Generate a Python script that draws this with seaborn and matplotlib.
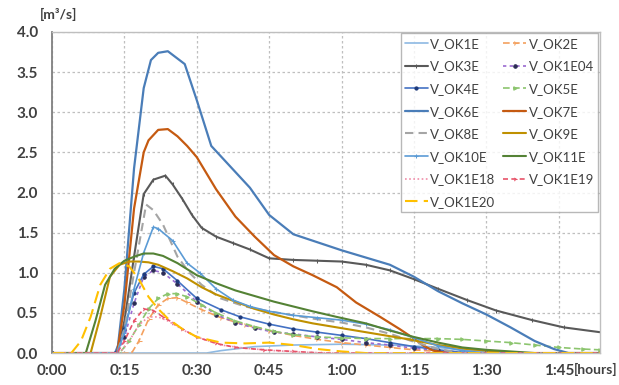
import matplotlib
matplotlib.use("Agg")
import matplotlib.pyplot as plt
import seaborn as sns
import pandas as pd

# time in minutes, discharge in m3/s
t_ok1e = [0, 32, 35, 42, 50, 60, 70, 78, 85, 90, 95, 113.5]
v_ok1e = [0, 0, 0.03, 0.08, 0.10, 0.11, 0.10, 0.08, 0.04, 0.02, 0, 0]

t_ok2e = [0, 16.5, 18, 20, 22, 24, 26, 28, 31, 35, 40, 45, 50, 55, 60, 65, 70, 75, 80, 85, 113.5]
v_ok2e = [0, 0, 0.15, 0.42, 0.60, 0.68, 0.69, 0.63, 0.54, 0.44, 0.35, 0.28, 0.22, 0.17, 0.13, 0.10, 0.07, 0.04, 0.02, 0, 0]

t_ok3e = [0, 13.5, 15, 17, 19, 21, 23.5, 25, 27, 29, 31, 34, 37.5, 41, 45, 50, 55, 60, 65, 70, 75, 80, 86, 92, 99.5, 106, 113.5]
v_ok3e = [0, 0, 0.4, 1.2, 1.98, 2.16, 2.21, 2.1, 1.92, 1.72, 1.56, 1.45, 1.37, 1.29, 1.18, 1.16, 1.15, 1.14, 1.10, 1.03, 0.92, 0.80, 0.66, 0.53, 0.41, 0.32, 0.26]

t_ok1e04 = [0, 13.5, 15, 17, 19, 21, 23, 26, 30, 34, 38, 42, 46, 50, 55, 60, 65, 70, 75, 80, 85, 90, 113.5]
v_ok1e04 = [0, 0, 0.2, 0.62, 0.95, 1.03, 1.0, 0.86, 0.64, 0.48, 0.38, 0.31, 0.26, 0.24, 0.20, 0.17, 0.13, 0.10, 0.06, 0.03, 0.01, 0, 0]

t_ok4e = [0, 13, 15, 17, 19, 21, 23, 26, 30, 35, 39, 45, 50, 55, 60, 65, 70, 75, 80, 85, 90, 113.5]
v_ok4e = [0, 0, 0.3, 0.75, 0.98, 1.08, 1.05, 0.9, 0.68, 0.54, 0.45, 0.36, 0.30, 0.26, 0.22, 0.18, 0.13, 0.08, 0.04, 0.01, 0, 0]

t_ok5e = [0, 14, 16, 18, 20, 22, 24, 26, 28, 31, 34, 38, 42, 46, 50, 55, 60, 65, 70, 75, 80, 85, 90, 95, 100, 105, 110, 113.5]
v_ok5e = [0, 0, 0.15, 0.35, 0.55, 0.68, 0.74, 0.74, 0.70, 0.60, 0.50, 0.40, 0.33, 0.27, 0.23, 0.20, 0.19, 0.18, 0.18, 0.18, 0.18, 0.17, 0.15, 0.13, 0.10, 0.07, 0.05, 0.04]

t_ok6e = [0, 13.5, 15, 17, 19, 20.5, 22, 24, 27.5, 30, 33, 37, 41, 45, 50, 55, 60, 65, 70, 75, 80, 85, 90, 95, 100, 104, 107, 113.5]
v_ok6e = [0, 0, 0.8, 2.3, 3.3, 3.65, 3.74, 3.76, 3.6, 3.15, 2.58, 2.32, 2.06, 1.72, 1.48, 1.38, 1.28, 1.19, 1.10, 0.95, 0.77, 0.62, 0.48, 0.32, 0.15, 0.05, 0, 0]

t_ok7e = [0, 13.5, 15, 17, 19, 20, 22, 24, 26, 28, 30, 34, 38, 42, 46, 50, 54, 59, 63, 68, 72, 75, 77, 79, 82, 113.5]
v_ok7e = [0, 0, 0.6, 1.8, 2.5, 2.65, 2.78, 2.79, 2.7, 2.58, 2.44, 2.04, 1.70, 1.45, 1.22, 1.08, 0.97, 0.82, 0.63, 0.45, 0.30, 0.18, 0.09, 0.03, 0, 0]

t_ok8e = [0, 13.5, 15, 17, 19.5, 21, 23, 26, 28.5, 31, 35, 40, 45, 50, 55, 60, 65, 70, 75, 80, 85, 113.5]
v_ok8e = [0, 0, 0.3, 1.0, 1.85, 1.78, 1.6, 1.2, 1.0, 0.85, 0.68, 0.58, 0.52, 0.47, 0.42, 0.38, 0.32, 0.24, 0.14, 0.05, 0, 0]

t_ok9e = [0, 8, 10, 12, 14, 16, 18, 20, 22, 25, 28, 31, 34, 38, 42, 46, 50, 54, 59, 64, 69, 74, 80, 86, 92, 98, 113.5]
v_ok9e = [0, 0, 0.45, 0.95, 1.10, 1.14, 1.14, 1.13, 1.10, 1.02, 0.93, 0.82, 0.73, 0.64, 0.55, 0.48, 0.42, 0.37, 0.32, 0.27, 0.22, 0.17, 0.10, 0.05, 0.02, 0, 0]

t_ok10e = [0, 13.5, 15, 17, 19, 21, 22, 25, 28, 30.6, 34, 37.5, 41, 45, 50, 55, 60, 65, 70, 75, 80, 85, 90, 113.5]
v_ok10e = [0, 0, 0.25, 0.8, 1.25, 1.57, 1.55, 1.4, 1.12, 1.0, 0.8, 0.66, 0.58, 0.52, 0.47, 0.44, 0.41, 0.36, 0.29, 0.19, 0.09, 0.03, 0, 0]

t_ok11e = [0, 7, 9, 11, 13, 15, 17, 19, 21, 23, 26, 30, 34, 38, 42, 46, 50, 54, 59, 65, 70, 75, 80, 85, 90, 95, 100, 113.5]
v_ok11e = [0, 0, 0.4, 0.85, 1.05, 1.15, 1.2, 1.24, 1.24, 1.21, 1.12, 0.97, 0.87, 0.78, 0.71, 0.64, 0.58, 0.52, 0.45, 0.37, 0.28, 0.20, 0.13, 0.07, 0.04, 0.02, 0, 0]

t_ok1e18 = [0, 14, 16, 18, 20, 22, 24, 26, 28, 31, 35, 40, 46, 52, 58, 113.5]
v_ok1e18 = [0, 0, 0.15, 0.35, 0.45, 0.45, 0.40, 0.33, 0.26, 0.18, 0.10, 0.06, 0.03, 0.01, 0, 0]

t_ok1e19 = [0, 13.5, 15, 17, 19, 21, 23, 25, 27, 30, 34, 38, 44, 50, 56, 113.5]
v_ok1e19 = [0, 0, 0.15, 0.40, 0.55, 0.53, 0.45, 0.38, 0.30, 0.20, 0.12, 0.07, 0.04, 0.02, 0, 0]

t_ok1e20 = [0, 4, 6, 8, 10, 12, 14, 16, 18, 20, 22, 24, 27, 30, 35, 40, 45, 50, 55, 60, 65, 113.5]
v_ok1e20 = [0, 0, 0.15, 0.45, 0.85, 1.05, 1.12, 1.08, 0.92, 0.70, 0.55, 0.43, 0.30, 0.20, 0.13, 0.12, 0.13, 0.10, 0.05, 0.02, 0, 0]

x_ticks = [0, 15, 30, 45, 60, 75, 90, 105]
x_labels = ["0:00", "0:15", "0:30", "0:45", "1:00", "1:15", "1:30", "1:45"]
y_ticks = [0, 0.5, 1.0, 1.5, 2.0, 2.5, 3.0, 3.5, 4.0]

series = [
    ("V_OK1E", t_ok1e, v_ok1e, dict(color="#8DB9E3", linestyle="-", lw=1.2)),
    ("V_OK2E", t_ok2e, v_ok2e, dict(color="#F4A15F", linestyle=(0, (4, 2)), lw=1.2, marker="4", ms=4, mec="#F4A15F")),
    ("V_OK3E", t_ok3e, v_ok3e, dict(color="#595959", linestyle="-", lw=1.5, marker="|", ms=3, mec="#595959")),
    ("V_OK1E04", t_ok1e04, v_ok1e04, dict(color="#9B6BD1", linestyle=(0, (2, 2)), lw=1.2, marker="o", ms=2.5, mfc="#2B2B55", mec="#2B2B55")),
    ("V_OK4E", t_ok4e, v_ok4e, dict(color="#4472C4", linestyle="-", lw=1.2, marker="o", ms=2.3, mfc="#1F3A7A", mec="#1F3A7A")),
    ("V_OK5E", t_ok5e, v_ok5e, dict(color="#8CC56E", linestyle=(0, (4, 2)), lw=1.2, marker=">", ms=2.5, mec="#8CC56E")),
    ("V_OK6E", t_ok6e, v_ok6e, dict(color="#4A7DB8", linestyle="-", lw=1.6)),
    ("V_OK7E", t_ok7e, v_ok7e, dict(color="#C55A11", linestyle="-", lw=1.6)),
    ("V_OK8E", t_ok8e, v_ok8e, dict(color="#A5A5A5", linestyle=(0, (4, 2.5)), lw=1.5)),
    ("V_OK9E", t_ok9e, v_ok9e, dict(color="#BF9000", linestyle="-", lw=1.5)),
    ("V_OK10E", t_ok10e, v_ok10e, dict(color="#5B9BD5", linestyle="-", lw=1.2, marker="+", ms=3, mec="#5B9BD5")),
    ("V_OK11E", t_ok11e, v_ok11e, dict(color="#548235", linestyle="-", lw=1.5)),
    ("V_OK1E18", t_ok1e18, v_ok1e18, dict(color="#F08CA8", linestyle=(0, (1, 1.5)), lw=1.2)),
    ("V_OK1E19", t_ok1e19, v_ok1e19, dict(color="#E8546A", linestyle=(0, (3, 2)), lw=1.2, marker="4", ms=3, mec="#E8546A")),
    ("V_OK1E20", t_ok1e20, v_ok1e20, dict(color="#FFC000", linestyle=(0, (6, 3)), lw=1.5)),
]

sns.set_style("white")
plt.rcParams["font.family"] = ["Lato", "DejaVu Sans"]
text_col = "#404040"

fig, ax = plt.subplots(figsize=(6.19, 3.85), dpi=100)
fig.subplots_adjust(left=0.084, right=0.969, top=0.917, bottom=0.083)

for name, t, v, style in series:
    df = pd.DataFrame({"t": t, "v": v})
    sns.lineplot(data=df, x="t", y="v", ax=ax, label=name, **style)

ax.set_xlim(0, 113.5)
ax.set_ylim(0, 4.0)
ax.set_xticks(x_ticks)
ax.set_xticklabels(x_labels)
ax.set_yticks(y_ticks)
ax.set_yticklabels([f"{y:.1f}" for y in y_ticks])
ax.set_xlabel("")
ax.set_ylabel("")
ax.tick_params(axis="both", labelsize=11, colors=text_col, length=0)
ax.tick_params(axis="y", pad=10)
ax.tick_params(axis="x", pad=8)
for lab in ax.get_xticklabels() + ax.get_yticklabels():
    lab.set_fontweight("bold")
    lab.set_color(text_col)

ax.grid(True, color="#BFBFBF", linestyle=(0, (2, 2)), lw=0.9)
for side in ["top", "right", "bottom"]:
    ax.spines[side].set_color("#BFBFBF")
    ax.spines[side].set_linewidth(1.0)
ax.spines["left"].set_color("#808080")
ax.spines["left"].set_linewidth(1.3)

# legend is filled row by row in the original
handles, labels = ax.get_legend_handles_labels()
order = list(range(0, len(handles), 2)) + list(range(1, len(handles), 2))
leg = ax.legend([handles[i] for i in order], [labels[i] for i in order],
                ncol=2, loc="upper right", fontsize=9.5, frameon=True, fancybox=False,
                borderaxespad=0.1, handlelength=1.7, handletextpad=0.2,
                columnspacing=0.6, labelspacing=0.8, borderpad=0.35)
leg.get_frame().set_edgecolor("#A6A6A6")
leg.get_frame().set_linewidth(1.0)
for txt in leg.get_texts():
    txt.set_color(text_col)

fig.text(0.064, 0.945, "[m³/s]", fontsize=10, fontweight="bold", color=text_col, ha="left", va="bottom")
fig.text(0.998, 0.04, "[hours]", fontsize=10, fontweight="bold", color=text_col, ha="right", va="center")

fig.savefig("out.png", dpi=100)
